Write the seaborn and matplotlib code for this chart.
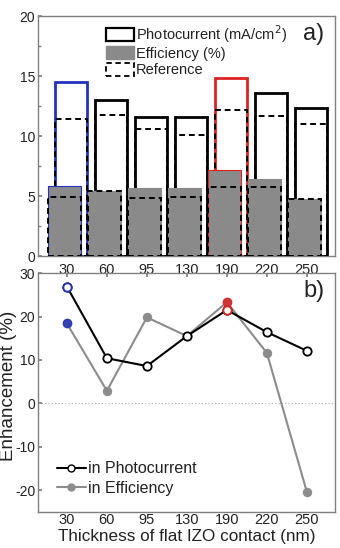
import numpy as np
import pandas as pd
import matplotlib
matplotlib.use("Agg")
import matplotlib.pyplot as plt
from matplotlib.patches import Patch
from matplotlib.lines import Line2D
from matplotlib.ticker import MultipleLocator
import seaborn as sns

# ---- data ----
thickness = ["30", "60", "95", "130", "190", "220", "250"]
photocurrent = [14.5, 13.0, 11.55, 11.6, 14.8, 13.55, 12.3]
photocurrent_ref = [11.42, 11.75, 10.6, 10.08, 12.2, 11.64, 11.0]
efficiency = [5.83, 5.44, 5.69, 5.69, 7.17, 6.44, 4.72]
efficiency_ref = [4.94, 5.44, 4.83, 4.94, 5.78, 5.78, 4.72]
enh_photocurrent = [26.9, 10.4, 8.6, 15.5, 21.5, 16.4, 12.1]
enh_efficiency = [18.4, 2.9, 19.8, 15.5, 23.3, 11.6, -20.4]
highlight = {0: "#2233bb", 4: "#dd2222"}

sns.set_theme(style="white")
plt.rcParams["font.family"] = ["Liberation Sans", "DejaVu Sans"]
TXT = "#222222"
SPINE = "#808080"

fig = plt.figure(figsize=(3.4, 5.48), dpi=100)
ax1 = fig.add_axes([0.112, 0.5328, 0.873, 0.438])
ax2 = fig.add_axes([0.112, 0.0657, 0.873, 0.436])

df = pd.DataFrame({"t": thickness, "pc": photocurrent, "pcr": photocurrent_ref,
                   "eff": efficiency, "effr": efficiency_ref})
n = len(thickness)

def shift(patches, dx):
    for p in patches:
        p.set_x(p.get_x() + dx)

# photocurrent outline bars
k0 = len(ax1.patches)
sns.barplot(data=df, x="t", y="pc", ax=ax1, width=0.8, fill=False,
            edgecolor="black", linewidth=2.0, order=thickness, zorder=2)
pc_bars = ax1.patches[k0:]
shift(pc_bars, 0.1)
for i, c in highlight.items():
    pc_bars[i].set_edgecolor(c)

# photocurrent reference dashed
k0 = len(ax1.patches)
sns.barplot(data=df, x="t", y="pcr", ax=ax1, width=0.8, fill=False,
            edgecolor="black", linewidth=1.4, linestyle=(0, (3, 2)),
            order=thickness, zorder=3)
shift(ax1.patches[k0:], 0.1)

# efficiency gray bars
k0 = len(ax1.patches)
sns.barplot(data=df, x="t", y="eff", ax=ax1, width=0.82, color="#8a8a8a",
            saturation=1, edgecolor="#8a8a8a", linewidth=0.8,
            order=thickness, zorder=4)
eff_bars = ax1.patches[k0:]
shift(eff_bars, -0.05)
for p in eff_bars:
    p.set_facecolor("#8a8a8a")
for i, c in highlight.items():
    eff_bars[i].set_edgecolor(c)

# efficiency reference dashed
k0 = len(ax1.patches)
sns.barplot(data=df, x="t", y="effr", ax=ax1, width=0.82, fill=False,
            edgecolor="black", linewidth=1.4, linestyle=(0, (3, 2)),
            order=thickness, zorder=5)
shift(ax1.patches[k0:], -0.05)

ax1.set_xlim(-0.72, 6.7)
ax1.set_ylim(0, 20)
ax1.yaxis.set_major_locator(MultipleLocator(5))
ax1.yaxis.set_minor_locator(MultipleLocator(2.5))
ax1.set_xlabel("")
ax1.set_ylabel("")
ax1.tick_params(axis="y", which="both", direction="in", left=True, length=3,
                color=SPINE, labelsize=10, labelcolor=TXT, pad=2)
ax1.tick_params(axis="y", which="minor", length=2)
ax1.tick_params(axis="x", bottom=False, labelsize=10.5, labelcolor=TXT, pad=-1)
for s in ax1.spines.values():
    s.set_color(SPINE)
    s.set_linewidth(1.0)

handles1 = [Patch(facecolor="white", edgecolor="black", linewidth=1.6),
            Patch(facecolor="#8a8a8a", edgecolor="#8a8a8a"),
            Patch(facecolor="white", edgecolor="black", linewidth=1.3, linestyle=(0, (3, 2)))]
ax1.legend(handles1, ["Photocurrent (mA/cm$^2$)", "Efficiency (%)", "Reference"],
           loc="upper left", bbox_to_anchor=(0.195, 1.014), frameon=False,
           fontsize=10.5, handlelength=1.9, handleheight=1.0, handletextpad=0.15,
           labelspacing=0.12, borderaxespad=0.3, labelcolor=TXT)
ax1.text(0.965, 0.925, "a)", transform=ax1.transAxes, ha="right", va="center",
         fontsize=17, color=TXT)

# ---- bottom panel ----
x = np.arange(n)
df2 = pd.DataFrame({"x": x, "pc": enh_photocurrent, "eff": enh_efficiency})
ax2.axhline(0, color="#aaaaaa", lw=0.8, ls=(0, (1, 2)), zorder=1)
sns.lineplot(data=df2, x="x", y="eff", ax=ax2, color="#8c8c8c", lw=1.5,
             marker="o", markersize=6, markerfacecolor="#8c8c8c",
             markeredgecolor="#8c8c8c", zorder=3)
sns.lineplot(data=df2, x="x", y="pc", ax=ax2, color="black", lw=1.5,
             marker="o", markersize=6, markerfacecolor="white",
             markeredgecolor="black", markeredgewidth=1.3, zorder=4)
for i, c in highlight.items():
    sub = df2.iloc[[i]]
    sns.scatterplot(data=sub, x="x", y="eff", ax=ax2, s=36, color=c,
                    edgecolor=c, linewidth=1.0, alpha=0.8, zorder=5)
    sns.scatterplot(data=sub, x="x", y="pc", ax=ax2, s=36, color="white",
                    edgecolor=c, linewidth=1.3, zorder=6)

ax2.set_xlim(-0.72, 6.7)
ax2.set_ylim(-25, 30)
ax2.set_xticks(x)
ax2.set_xticklabels(thickness)
ax2.set_yticks([-20, -10, 0, 10, 20, 30])
ax2.set_yticklabels(["-20", "-10", "0", "10", "20", "30"])
ax2.tick_params(axis="y", direction="in", left=True, length=3, color=SPINE,
                labelsize=10, labelcolor=TXT, pad=2)
ax2.tick_params(axis="x", direction="in", top=True, bottom=False, length=3,
                color=SPINE, labelsize=10.5, labelcolor=TXT, pad=1)
for s in ax2.spines.values():
    s.set_color(SPINE)
    s.set_linewidth(1.0)
ax2.set_xlabel("Thickness of flat IZO contact (nm)", fontsize=12.3, color=TXT, labelpad=1)
ax2.set_ylabel("Enhancement (%)", fontsize=13.5, color=TXT)
ax2.yaxis.set_label_coords(-0.072, 0.527)

handles2 = [Line2D([], [], color="black", lw=1.5, marker="o", markersize=5,
                   markerfacecolor="white", markeredgecolor="black"),
            Line2D([], [], color="#8c8c8c", lw=1.5, marker="o", markersize=5,
                   markerfacecolor="#8c8c8c", markeredgecolor="#8c8c8c")]
ax2.legend(handles2, ["in Photocurrent", "in Efficiency"], loc="lower left",
           bbox_to_anchor=(0.015, 0.007), frameon=False, fontsize=11.5,
           handlelength=1.8, handletextpad=0.15, labelspacing=0.3, labelcolor=TXT)
ax2.text(0.965, 0.925, "b)", transform=ax2.transAxes, ha="right", va="center",
         fontsize=17, color=TXT)

fig.savefig("out.png", dpi=100)
